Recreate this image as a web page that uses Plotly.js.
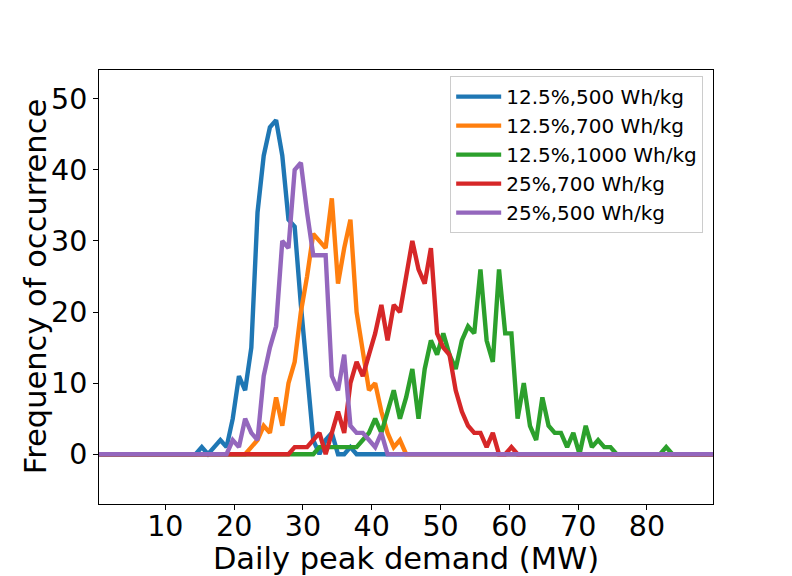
<!DOCTYPE html>
<html>
<head>
<meta charset="utf-8">
<script src="https://cdn.plot.ly/plotly-3.0.1.min.js"></script>
<style>html,body{margin:0;padding:0;background:#fff;}#chart{width:792px;height:576px;}</style>
</head>
<body>
<div id="chart"></div>
<script>
// Daily peak demand bins (MW)
var demandBins = [
  0, 0.9, 1.8, 2.7, 3.6, 4.5, 5.4, 6.3, 7.2, 8.1,
  9, 9.9, 10.8, 11.7, 12.6, 13.5, 14.4, 15.3, 16.2, 17.1,
  18, 18.9, 19.8, 20.7, 21.6, 22.5, 23.4, 24.3, 25.2, 26.1,
  27, 27.9, 28.8, 29.7, 30.6, 31.5, 32.4, 33.3, 34.2, 35.1,
  36, 36.9, 37.8, 38.7, 39.6, 40.5, 41.4, 42.3, 43.2, 44.1,
  45, 45.9, 46.8, 47.7, 48.6, 49.5, 50.4, 51.3, 52.2, 53.1,
  54, 54.9, 55.8, 56.7, 57.6, 58.5, 59.4, 60.3, 61.2, 62.1,
  63, 63.9, 64.8, 65.7, 66.6, 67.5, 68.4, 69.3, 70.2, 71.1,
  72, 72.9, 73.8, 74.7, 75.6, 76.5, 77.4, 78.3, 79.2, 80.1,
  81, 81.9, 82.8, 83.7, 84.6, 85.5, 86.4, 87.3, 88.2, 89.1,
  90
];

var s125_500 = [
  0,0,0,0,0,0,0,0,0,0,
  0,0,0,0,0,0,0,1,0,1,
  2,1,5,11,9,15,34,42,46,47,
  42,33,32,21,11,2,0,2,3,0,
  0,1,0,0,0,0,0,0,0,0,
  0,0,0,0,0,0,0,0,0,0,
  0,0,0,0,0,0,0,0,0,0,
  0,0,0,0,0,0,0,0,0,0,
  0,0,0,0,0,0,0,0,0,0,
  0,0,0,0,0,0,0,0,0,0,
  0
];

var s125_700 = [
  0,0,0,0,0,0,0,0,0,0,
  0,0,0,0,0,0,0,0,0,0,
  0,0,0,0,0,1,2,4,3,8,
  4,10,13,20,25,31,30,29,36,24,
  29,33,20,14,9,10,6,3,1,2,
  0,0,0,0,0,0,0,0,0,0,
  0,0,0,0,0,0,0,0,0,0,
  0,0,0,0,0,0,0,0,0,0,
  0,0,0,0,0,0,0,0,0,0,
  0,0,0,0,0,0,0,0,0,0,
  0
];

var s125_1000 = [
  0,0,0,0,0,0,0,0,0,0,
  0,0,0,0,0,0,0,0,0,0,
  0,0,0,0,0,0,0,0,0,0,
  0,0,0,0,0,0,1,1,1,1,
  1,1,1,2,3,5,3,6,9,5,
  8,12,5,12,16,14,17,14,12,16,
  18,17,26,16,13,26,17,17,5,10,
  4,2,8,4,3,3,1,3,0,4,
  1,2,1,1,0,0,0,0,0,0,
  0,0,1,0,0,0,0,0,0,0,
  0
];

var s25_700 = [
  0,0,0,0,0,0,0,0,0,0,
  0,0,0,0,0,0,0,0,0,0,
  0,0,0,0,0,0,0,0,0,0,
  0,0,1,1,1,2,3,0,3,6,
  3,10,13,11,14,17,21,16,21,20,
  25,30,26,24,29,17,15,14,9,6,
  4,3,3,1,3,0,0,1,0,0,
  0,0,0,0,0,0,0,0,0,0,
  0,0,0,0,0,0,0,0,0,0,
  0,0,0,0,0,0,0,0,0,0,
  0
];

var s25_500 = [
  0,0,0,0,0,0,0,0,0,0,
  0,0,0,0,0,0,0,0,0,0,
  0,0,2,1,5,3,2,11,15,18,
  30,29,40,41,34,28,28,28,11,9,
  14,4,3,3,2,1,3,0,0,0,
  0,0,0,0,0,0,0,0,0,0,
  0,0,0,0,0,0,0,0,0,0,
  0,0,0,0,0,0,0,0,0,0,
  0,0,0,0,0,0,0,0,0,0,
  0,0,0,0,0,0,0,0,0,0,
  0
];

var seriesNames = ['12.5%,500 Wh/kg', '12.5%,700 Wh/kg', '12.5%,1000 Wh/kg', '25%,700 Wh/kg', '25%,500 Wh/kg'];
var seriesData = [s125_500, s125_700, s125_1000, s25_700, s25_500];
var seriesColors = ['#1f77b4', '#ff7f0e', '#2ca02c', '#d62728', '#9467bd'];

var xTicks = [10, 20, 30, 40, 50, 60, 70, 80];
var yTicks = [0, 10, 20, 30, 40, 50];
var xTitle = 'Daily peak demand (MW)';
var yTitle = 'Frequency of occurrence';

var traces = seriesData.map(function (ys, i) {
  return {
    x: demandBins,
    y: ys,
    type: 'scatter',
    mode: 'lines',
    name: seriesNames[i],
    line: { color: seriesColors[i], width: 4.4 }
  };
});

var FONT = 'DejaVu Sans, sans-serif';
var layout = {
  width: 792,
  height: 576,
  margin: { l: 99, r: 79, t: 70, b: 72 },
  paper_bgcolor: '#ffffff',
  plot_bgcolor: '#ffffff',
  font: { family: FONT, color: '#000000' },
  showlegend: true,
  xaxis: {
    range: [0.36, 89.6],
    tickvals: xTicks,
    ticktext: xTicks.map(String),
    ticks: 'outside',
    ticklen: 5,
    tickcolor: '#000',
    ticklabelstandoff: -8,
    showline: true,
    mirror: true,
    linecolor: '#000',
    linewidth: 1,
    showgrid: false,
    zeroline: false,
    automargin: false,
    tickfont: { family: FONT, size: 28.5, color: '#000' },
    title: { text: xTitle, font: { family: FONT, size: 30.5, color: '#000' } }
  },
  yaxis: {
    range: [-7.0, 54.05],
    tickvals: yTicks,
    ticktext: yTicks.map(String),
    ticks: 'outside',
    ticklen: 5,
    tickcolor: '#000',
    showline: true,
    mirror: true,
    linecolor: '#000',
    linewidth: 1,
    showgrid: false,
    zeroline: false,
    automargin: false,
    tickfont: { family: FONT, size: 28.5, color: '#000' }
  },
  annotations: [{
    text: yTitle,
    xref: 'paper', yref: 'paper',
    x: -0.104, y: 0.5,
    xanchor: 'center', yanchor: 'middle',
    textangle: -90,
    showarrow: false,
    font: { family: FONT, size: 30.5, color: '#000' }
  }],
  legend: {
    x: 0.984,
    y: 0.986,
    xanchor: 'right',
    yanchor: 'top',
    itemwidth: 45,
    bgcolor: 'rgba(255,255,255,0.8)',
    bordercolor: '#cccccc',
    borderwidth: 1,
    font: { family: FONT, size: 20, color: '#000' }
  }
};

Plotly.newPlot('chart', traces, layout, { displayModeBar: false, staticPlot: true });
</script>
</body>
</html>
